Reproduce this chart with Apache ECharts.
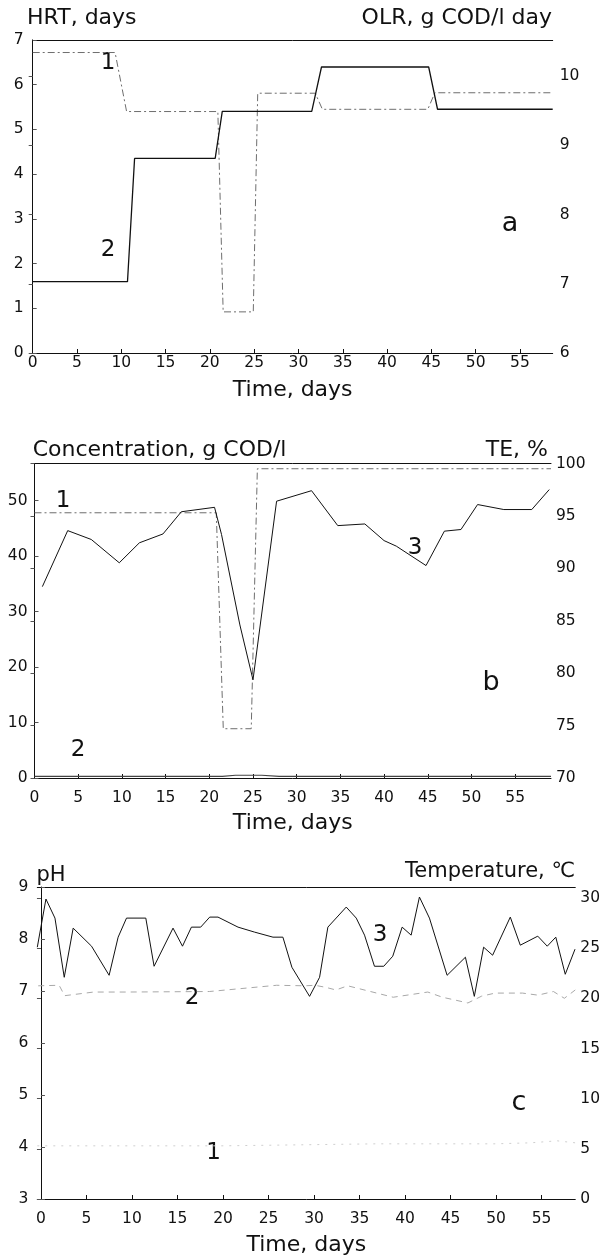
<!DOCTYPE html>
<html>
<head>
<meta charset="utf-8">
<title>HRT, OLR, concentration, TE, pH and temperature</title>
<script src="https://cdn.jsdelivr.net/npm/echarts@6.0.0/dist/echarts.min.js"></script>
<style>
  html, body { margin: 0; padding: 0; background: #fff; }
  #main { width: 603px; height: 1257px; }
</style>
</head>
<body>
<div id="main"></div>
<script>
// ---- panel a : HRT (1) and OLR (2)
var hrtDays = [0, 9.3, 10.6, 20.9, 21.5, 24.9, 25.4, 31.9, 32.7, 44.6, 45.4, 58.7];
var hrtValues = [6.72, 6.72, 5.40, 5.40, 0.92, 0.92, 5.81, 5.81, 5.45, 5.45, 5.82, 5.82];
var olrDays = [0, 10.7, 11.5, 20.6, 21.4, 31.5, 32.6, 44.7, 45.7, 58.7];
var olrValues = [7.03, 7.03, 8.81, 8.81, 9.49, 9.49, 10.13, 10.13, 9.52, 9.52];

// ---- panel b : TE (1), effluent (2), influent concentration (3)
var teDays = [0, 20.8, 21.6, 24.8, 25.5, 59.1];
var teValues = [95.3, 95.3, 74.7, 74.7, 99.5, 99.5];
var effDays = [0, 21.5, 23, 26, 28, 59.1];
var effValues = [0.3, 0.3, 0.5, 0.5, 0.3, 0.3];
var concDays = [0.9, 3.8, 6.5, 9.7, 12.0, 14.7, 16.8, 20.6, 21.4, 23.5, 25.0, 27.7, 31.7, 34.7, 37.8, 40.0, 41.4, 44.8, 46.9, 48.8, 50.7, 53.7, 56.9, 58.9];
var concValues = [34.5, 44.6, 43.0, 38.8, 42.4, 44.0, 48.0, 48.8, 43.9, 27.6, 17.7, 49.9, 51.8, 45.5, 45.8, 42.8, 41.8, 38.3, 44.5, 44.8, 49.3, 48.4, 48.4, 52.0];

// ---- panel c : line 1 (faint), pH (2), temperature (3)
var lowDays = [-0.4, 20, 36.9, 39.8, 49.9, 53.8, 56.7, 58.7];
var lowValues = [5.3, 5.3, 5.5, 5.5, 5.5, 5.6, 5.8, 5.6];
var phDays = [-0.3, 2.0, 2.6, 5.8, 9.4, 18.5, 25.9, 29.0, 30.1, 31.3, 32.4, 33.7, 38.7, 42.5, 44.1, 45.4, 46.9, 48.4, 49.9, 52.9, 54.6, 56.3, 57.5, 58.7];
var phValues = [7.10, 7.11, 6.91, 6.98, 6.98, 6.99, 7.11, 7.10, 7.11, 7.07, 7.02, 7.10, 6.88, 6.98, 6.88, 6.83, 6.77, 6.90, 6.96, 6.96, 6.92, 6.99, 6.86, 7.02];
var tempDays = [-0.4, 0.55, 1.54, 2.56, 3.54, 5.56, 7.49, 8.48, 9.4, 11.52, 12.43, 14.51, 15.55, 16.53, 17.55, 18.54, 19.45, 21.65, 23.48, 25.49, 26.58, 27.57, 29.51, 30.61, 31.52, 33.54, 34.64, 35.55, 36.64, 37.66, 38.65, 39.68, 40.67, 41.58, 42.68, 44.62, 46.63, 47.61, 48.63, 49.62, 51.56, 52.66, 54.58, 55.62, 56.56, 57.6, 58.67];
var tempValues = [25.1, 29.9, 28.0, 22.1, 27.0, 25.2, 22.3, 26.1, 28.0, 28.0, 23.2, 27.0, 25.2, 27.1, 27.1, 28.1, 28.1, 27.1, 26.6, 26.1, 26.1, 23.1, 20.2, 22.1, 27.1, 29.1, 28.0, 26.3, 23.2, 23.2, 24.2, 27.1, 26.3, 30.1, 28.0, 22.3, 24.1, 20.2, 25.1, 24.3, 28.1, 25.3, 26.2, 25.2, 26.1, 22.4, 24.9];

// tick labels
var dayTicks = [0, 5, 10, 15, 20, 25, 30, 35, 40, 45, 50, 55];
var hrtTicks = [0, 1, 2, 3, 4, 5, 6, 7];
var olrTicks = [6, 7, 8, 9, 10];
var concTicks = [0, 10, 20, 30, 40, 50];
var teTicks = [70, 75, 80, 85, 90, 95, 100];
var phTicks = [3, 4, 5, 6, 7, 8, 9];
var tempTicks = [0, 5, 10, 15, 20, 25, 30];

var FONT = 'DejaVu Sans';
var INK = '#111';

function pairs(xs, ys) {
	return xs.map(function (x, i) { return [x, ys[i]]; });
}

function bottomAxis(grid, min, max, nameGap, labelGap) {
	return {
		type: 'value', gridIndex: grid, position: 'bottom', min: min, max: max,
		name: 'Time, days', nameLocation: 'middle', nameGap: nameGap,
		nameTextStyle: { fontFamily: FONT, fontSize: 22, color: INK, verticalAlign: 'middle' },
		axisLine: { lineStyle: { color: INK, width: 1 } },
		axisTick: { inside: true, length: 4, customValues: dayTicks, lineStyle: { color: INK } },
		axisLabel: { customValues: dayTicks, margin: labelGap, verticalAlign: 'middle', fontFamily: FONT, fontSize: 15.5, color: INK },
		splitLine: { show: false }
	};
}
// top edge of the frame
function topAxis(grid, min, max) {
	return {
		type: 'value', gridIndex: grid, position: 'top', min: min, max: max,
		axisLine: { lineStyle: { color: INK, width: 1 } },
		axisTick: { show: false }, axisLabel: { show: false }, splitLine: { show: false }
	};
}
function sideAxis(grid, pos, min, max, ticks, margin, faint) {
	return {
		type: 'value', gridIndex: grid, position: pos, min: min, max: max,
		axisLine: { show: true, lineStyle: faint ? { color: '#8a8a8a', width: 1, type: [3, 5] } : { color: INK, width: 1 } },
		axisTick: { show: true, inside: true, length: 4, customValues: ticks, lineStyle: { color: '#555' } },
		axisLabel: { customValues: ticks, margin: margin, fontFamily: FONT, fontSize: 15.5, color: INK },
		splitLine: { show: false }
	};
}
function line(x, y, data, color, width, type) {
	return {
		type: 'line', xAxisIndex: x, yAxisIndex: y, data: data,
		symbol: 'none', silent: true,
		lineStyle: { color: color, width: width, type: type }
	};
}
function note(txt, x, y, size, align) {
	return {
		type: 'text', x: x, y: y, silent: true,
		style: { text: txt, fontFamily: FONT, fontSize: size, fill: INK, align: align || 'center', verticalAlign: 'middle' }
	};
}

var dashDot = [7, 3, 2, 3];

var chart = echarts.init(document.getElementById('main'), null, { renderer: 'canvas' });
var option = {
	backgroundColor: '#fff',
	animation: false,
	grid: [
		{ left: 32.7, right: 50.3, top: 40, bottom: 904 },
		{ left: 34.5, right: 52, top: 463.5, bottom: 479 },
		{ left: 37.3, right: 27.2, top: 887, bottom: 55 }
	],
	xAxis: [
		bottomAxis(0, 0, 58.7, 37, 9.5), topAxis(0, 0, 58.7),
		bottomAxis(1, 0, 59.1, 45, 20), topAxis(1, 0, 59.1),
		bottomAxis(2, -0.4, 58.7, 46, 19.7), topAxis(2, -0.4, 58.7)
	],
	yAxis: [
		sideAxis(0, 'left', 0, 7, hrtTicks, 9, true),
		sideAxis(0, 'right', 6, 10.52, olrTicks, 7, false),
		sideAxis(1, 'left', 0, 56.7, concTicks, 7, true),
		sideAxis(1, 'right', 70, 100, teTicks, 5, false),
		sideAxis(2, 'left', 3, 9, phTicks, 9, true),
		sideAxis(2, 'right', 0, 31.1, tempTicks, 5, false)
	],
	series: [
		line(0, 0, pairs(hrtDays, hrtValues), '#6e6e6e', 1, dashDot),
		line(0, 1, pairs(olrDays, olrValues), INK, 1.3, 'solid'),
		line(2, 3, pairs(teDays, teValues), '#6e6e6e', 1, dashDot),
		line(2, 2, pairs(effDays, effValues), '#444', 1.2, 'solid'),
		line(2, 2, pairs(concDays, concValues), INK, 1, 'solid'),
		line(4, 5, pairs(lowDays, lowValues), '#cfcfcf', 1, [2, 6]),
		line(4, 4, pairs(phDays, phValues), '#a8a8a8', 1, [6, 5]),
		line(4, 5, pairs(tempDays, tempValues), INK, 1, 'solid')
	],
	graphic: [
		// axis titles
		note('HRT, days', 27, 18, 22, 'left'),
		note('OLR, g COD/l day', 552, 18, 22, 'right'),
		note('Concentration, g COD/l', 32.7, 450, 22, 'left'),
		note('TE, %', 548, 450, 22, 'right'),
		note('pH', 36.5, 876, 21, 'left'),
		note('Temperature, \u2103', 575, 872, 21, 'right'),
		// curve numbers and panel letters
		note('1', 108, 63, 23), note('2', 108, 250, 23), note('a', 510, 224, 27),
		note('1', 63, 501, 23), note('3', 415, 548, 23), note('2', 78, 750, 23), note('b', 491, 683, 27),
		note('3', 380, 935, 23), note('2', 192, 998, 23), note('1', 213.5, 1153, 23), note('c', 519, 1103, 27)
	]
};
chart.setOption(option);
</script>
</body>
</html>
